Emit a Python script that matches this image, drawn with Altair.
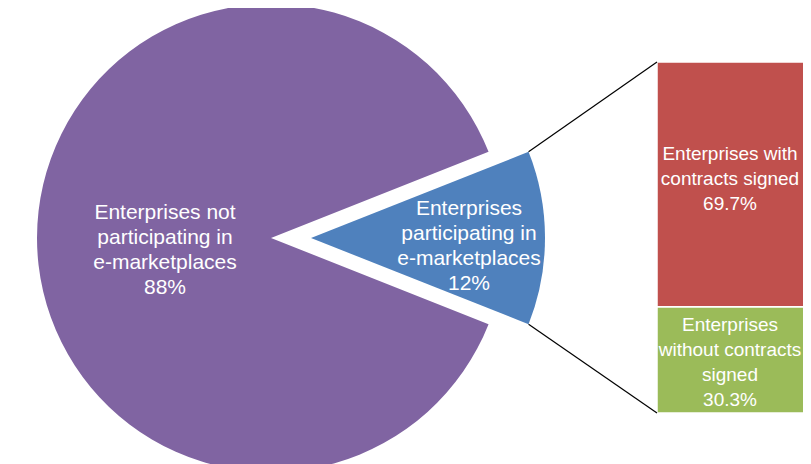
import math
import altair as alt
import pandas as pd

# ---- data ----
pie_lines = [["Enterprises", "participating in", "e-marketplaces"],
             ["Enterprises not", "participating in", "e-marketplaces"]]
pie_values = [12, 88]
pie_colors = ["#4F81BD", "#8064A2"]

bar_lines = [["Enterprises", "without contracts", "signed"],
             ["Enterprises with", "contracts signed"]]
bar_values = [30.3, 69.7]
bar_colors = ["#9BBB59", "#C0504D"]

# ---- layout constants (chart pixel space) ----
W, H = 795, 456
CX, CY = 263, 230          # main pie centre
EXPLODE = 40               # offset of the exploded slice
R = 234
BAR_X0, BAR_X1 = 649, 815
BAR_TOP, BAR_BOT = 54, 405
BAR_TXT_X = 722
FONT = "Liberation Sans"
FS, LH = 21, 25
BAR_FS = 19


def label(lines, v):
    return "\n".join(lines + [f"{v:g}%"])


# pie table
start = 0.0
pie_rows = []
for i, (ln, v, c) in enumerate(zip(pie_lines, pie_values, pie_colors)):
    pie_rows.append(dict(idx=i, start=start, end=start + v, mid=start + v / 2,
                         label=label(ln, v), n=len(ln) + 1, color=c))
    start += v
pie_df = pd.DataFrame(pie_rows)

# bar table
b0 = 0.0
bar_rows = []
for i, (ln, v, c) in enumerate(zip(bar_lines, bar_values, bar_colors)):
    bar_rows.append(dict(idx=i, start=b0, end=b0 + v, mid=b0 + v / 2,
                         label=label(ln, v), n=len(ln) + 1, color=c))
    b0 += v
bar_df = pd.DataFrame(bar_rows)

# rotate so the small slice is centred on 3 o'clock
small_frac = pie_values[0] / sum(pie_values)
rot = math.pi / 2 - small_frac * math.pi
theta_scale = alt.Scale(domain=[0, sum(pie_values)], range=[rot, rot + 2 * math.pi])


def block_dy(n, adj=0):
    # Vega places the first line at the anchor; shift so the block is centred
    return -(n - 1) * LH / 2 + adj


base_pie = alt.Chart(pie_df)

purple = base_pie.transform_filter("datum.idx == 1").mark_arc(radius=R).encode(
    theta=alt.Theta("start:Q", scale=theta_scale),
    theta2="end:Q",
    color=alt.Color("color:N", scale=None),
    x=alt.value(CX), y=alt.value(CY),
)
blue = base_pie.transform_filter("datum.idx == 0").mark_arc(radius=R).encode(
    theta=alt.Theta("start:Q", scale=theta_scale),
    theta2="end:Q",
    color=alt.Color("color:N", scale=None),
    x=alt.value(CX + EXPLODE), y=alt.value(CY),
)
purple_txt = base_pie.transform_filter("datum.idx == 1").mark_text(
    radius=106, font=FONT, fontSize=FS, lineHeight=LH, lineBreak="\n",
    color="white", align="center", baseline="middle",
    dy=block_dy(pie_rows[1]["n"], 12)
).encode(
    theta=alt.Theta("mid:Q", scale=theta_scale),
    text="label:N",
    x=alt.value(CX), y=alt.value(CY),
)
blue_txt = base_pie.transform_filter("datum.idx == 0").mark_text(
    radius=158, font=FONT, fontSize=FS, lineHeight=LH, lineBreak="\n",
    color="white", align="center", baseline="middle",
    dy=block_dy(pie_rows[0]["n"], 8)
).encode(
    theta=alt.Theta("mid:Q", scale=theta_scale),
    text="label:N",
    x=alt.value(CX + EXPLODE), y=alt.value(CY),
)

y_scale = alt.Scale(domain=[0, 100], range=[BAR_BOT, BAR_TOP])
bars = alt.Chart(bar_df).mark_rect(stroke="white", strokeWidth=1.5).encode(
    y=alt.Y("start:Q", scale=y_scale, axis=None),
    y2="end:Q",
    x=alt.value(BAR_X0), x2=alt.value(BAR_X1),
    color=alt.Color("color:N", scale=None),
)


def bar_text(i, adj):
    return alt.Chart(bar_df).transform_filter(f"datum.idx == {i}").mark_text(
        font=FONT, fontSize=BAR_FS, lineHeight=LH, lineBreak="\n",
        color="white", align="center", baseline="middle",
        dy=block_dy(bar_rows[i]["n"], adj)
    ).encode(
        y=alt.Y("mid:Q", scale=y_scale, axis=None),
        x=alt.value(BAR_TXT_X),
        text="label:N",
    )


green_txt = bar_text(0, 3)
red_txt = bar_text(1, -5)

# connector lines from exploded slice corners to bar corners
a0 = rot
a1 = rot + small_frac * 2 * math.pi
bx = CX + EXPLODE
p_top = (bx + R * math.sin(a0), CY - R * math.cos(a0))
p_bot = (bx + R * math.sin(a1), CY - R * math.cos(a1))
conn_top = alt.Chart(pd.DataFrame({"k": [0]})).mark_rule(color="black", strokeWidth=1.2).encode(
    x=alt.value(p_top[0]), y=alt.value(p_top[1]),
    x2=alt.value(BAR_X0), y2=alt.value(BAR_TOP),
)
conn_bot = alt.Chart(pd.DataFrame({"k": [0]})).mark_rule(color="black", strokeWidth=1.2).encode(
    x=alt.value(p_bot[0]), y=alt.value(p_bot[1]),
    x2=alt.value(BAR_X0), y2=alt.value(BAR_BOT),
)

chart = alt.layer(
    purple, blue, bars, conn_top, conn_bot, purple_txt, blue_txt, green_txt, red_txt
).properties(
    width=W, height=H, padding=0, autosize=alt.AutoSizeParams(type="none")
).configure_view(stroke=None)

chart.save("out.html", embed_options={"renderer": "svg", "actions": False})
